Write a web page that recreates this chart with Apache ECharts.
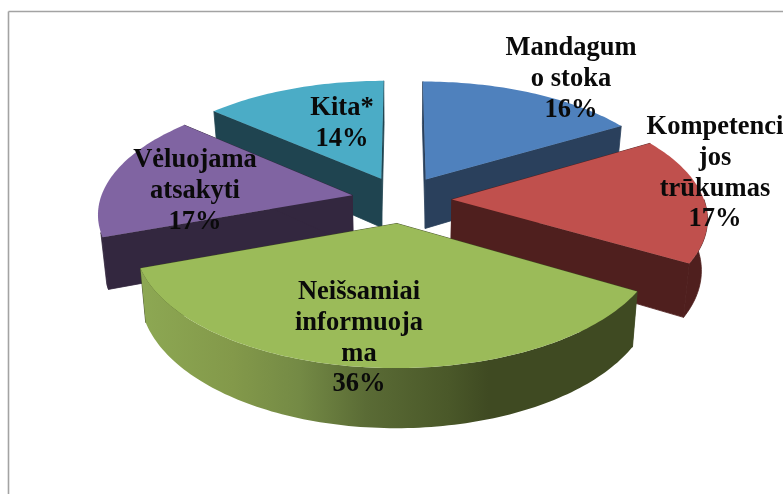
<!DOCTYPE html>
<html>
<head>
<meta charset="utf-8">
<style>html,body{margin:0;padding:0;background:#fff}#main{width:783px;height:494px}</style>
<script src="https://cdn.jsdelivr.net/npm/echarts@6/dist/echarts.min.js"></script>
</head>
<body>
<div id="main"></div>
<script>
var categories = ['Mandagumo stoka', 'Kompetencijos trūkumas', 'Neišsamiai informuojama', 'Vėluojama atsakyti', 'Kita*'];
// shares, printed percentages are the rounded ones
var shares = [16.4, 17.1, 35.9, 17.1, 13.5];
var labelLines = [
    ['Mandagum', 'o stoka', '16%'],
    ['Kompetenci', 'jos', 'trūkumas', '17%'],
    ['Neišsamiai', 'informuoja', 'ma', '36%'],
    ['Vėluojama', 'atsakyti', '17%'],
    ['Kita*', '14%']
];

// text centre x and top y, as placed in the picture
var labelAt = [[571, 33], [715, 112], [359, 277], [195, 145], [342, 93]];
var topColors = ['#4F81BD', '#C0504D', '#9BBB59', '#8064A2', '#4BACC6'];
var sideColors = ['#2A405C', '#4F1F1E', '#3F4A22', '#33273F', '#1F4450'];

// projection of the tilted pie
var cx = 401.5, cy = 199.5, rx = 252, ry = 117, depth = 50, persp = 0.14, explode = 0.2, shrink = 0.02;
// the outer wall only shows on this part of the turn
var wallFrom = Math.PI / 2, wallTo = 252 / 180 * Math.PI;

var total = shares.reduce(function (a, b) { return a + b; }, 0);

function project(u, v, bottom) {
    var s = 1 / (1 + persp * v);
    return [
        cx + rx * u * s * (bottom ? 1 - shrink : 1),
        cy - ry * v * s + (bottom ? depth * s : 0)
    ];
}

function sliceAngles(idx) {
    var start = 0;
    for (var i = 0; i < idx; i++) {
        start += shares[i] / total * Math.PI * 2;
    }
    return [start, start + shares[idx] / total * Math.PI * 2];
}

function midCos(idx) {
    var a = sliceAngles(idx);
    return Math.cos((a[0] + a[1]) / 2);
}

// back slices first
var order = shares.map(function (d, i) { return i; }).sort(function (a, b) {
    return midCos(b) - midCos(a);
});

function arcPoints(from, to, ou, ov, bottom) {
    var steps = Math.ceil((to - from) / 0.02);
    var pts = [];
    for (var i = 0; i <= steps; i++) {
        var t = from + (to - from) * i / steps;
        pts.push(project(ou + Math.sin(t), ov + Math.cos(t), bottom));
    }
    return pts;
}

function renderSlice(params, api) {
    var idx = api.value(0);
    var a = sliceAngles(idx);
    var mid = (a[0] + a[1]) / 2;
    var ou = explode * Math.sin(mid), ov = explode * Math.cos(mid);
    var rank = order.indexOf(idx) * 10;

    var topArc = arcPoints(a[0], a[1], ou, ov, false);
    var lowArc = arcPoints(a[0], a[1], ou, ov, true);
    var last = topArc.length - 1;
    var apexTop = project(ou, ov, false), apexLow = project(ou, ov, true);
    // thin stroke closes the seams between the faces
    var sideStyle = {fill: sideColors[idx], stroke: sideColors[idx], lineWidth: 0.8};

    var children = [
        {type: 'polygon', z2: rank, shape: {points: [apexTop, topArc[0], lowArc[0], apexLow]}, style: sideStyle},
        {type: 'polygon', z2: rank + 1, shape: {points: [apexTop, topArc[last], lowArc[last], apexLow]}, style: sideStyle}
    ];

    var wa = Math.max(a[0], wallFrom), wb = Math.min(a[1], wallTo);
    if (wb > wa) {
        var wallStyle = sideStyle;
        if (idx === 2) {
            wallStyle = {fill: new echarts.graphic.LinearGradient(topArc[last][0], 0, topArc[0][0], 0, [
                {offset: 0, color: '#8DA853'},
                {offset: 0.185, color: '#83994A'},
                {offset: 0.32, color: '#748A45'},
                {offset: 0.455, color: '#5A6B35'},
                {offset: 0.62, color: '#4A5829'},
                {offset: 0.7, color: '#3F4A22'},
                {offset: 1, color: '#3F4A22'}
            ], true)};
        }
        children.push({
            type: 'polygon', z2: rank + 2,
            shape: {points: arcPoints(wa, wb, ou, ov, false).concat(arcPoints(wa, wb, ou, ov, true).reverse())},
            style: wallStyle
        });
    }

    children.push({type: 'polygon', z2: rank + 3, shape: {points: [apexTop].concat(topArc)}, style: {fill: topColors[idx]}});
    children.push({
        type: 'text', z2: 200, x: labelAt[idx][0], y: labelAt[idx][1],
        style: {
            text: labelLines[idx].join('\n'),
            align: 'center', verticalAlign: 'top',
            font: 'bold 26.5px "Liberation Serif"',
            lineHeight: 30.7, fill: '#0a0a0a'
        }
    });
    return {type: 'group', children: children};
}

var myChart = echarts.init(document.getElementById('main'), null, {renderer: 'canvas'});

var option = {
    animation: false,
    backgroundColor: '#fff',
    graphic: [
        {type: 'line', shape: {x1: 8.5, y1: 11.5, x2: 783, y2: 11.5}, style: {stroke: '#A3A3A3', lineWidth: 1.6}},
        {type: 'line', shape: {x1: 8.5, y1: 11.5, x2: 8.5, y2: 494}, style: {stroke: '#A3A3A3', lineWidth: 1.6}}
    ],
    series: [{
        type: 'custom',
        coordinateSystem: 'none',
        name: 'Priežastys',
        renderItem: renderSlice,
        data: categories.map(function (name, i) { return {name: name, value: [i, shares[i]]}; })
    }]
};
myChart.setOption(option);
</script>
</body>
</html>
